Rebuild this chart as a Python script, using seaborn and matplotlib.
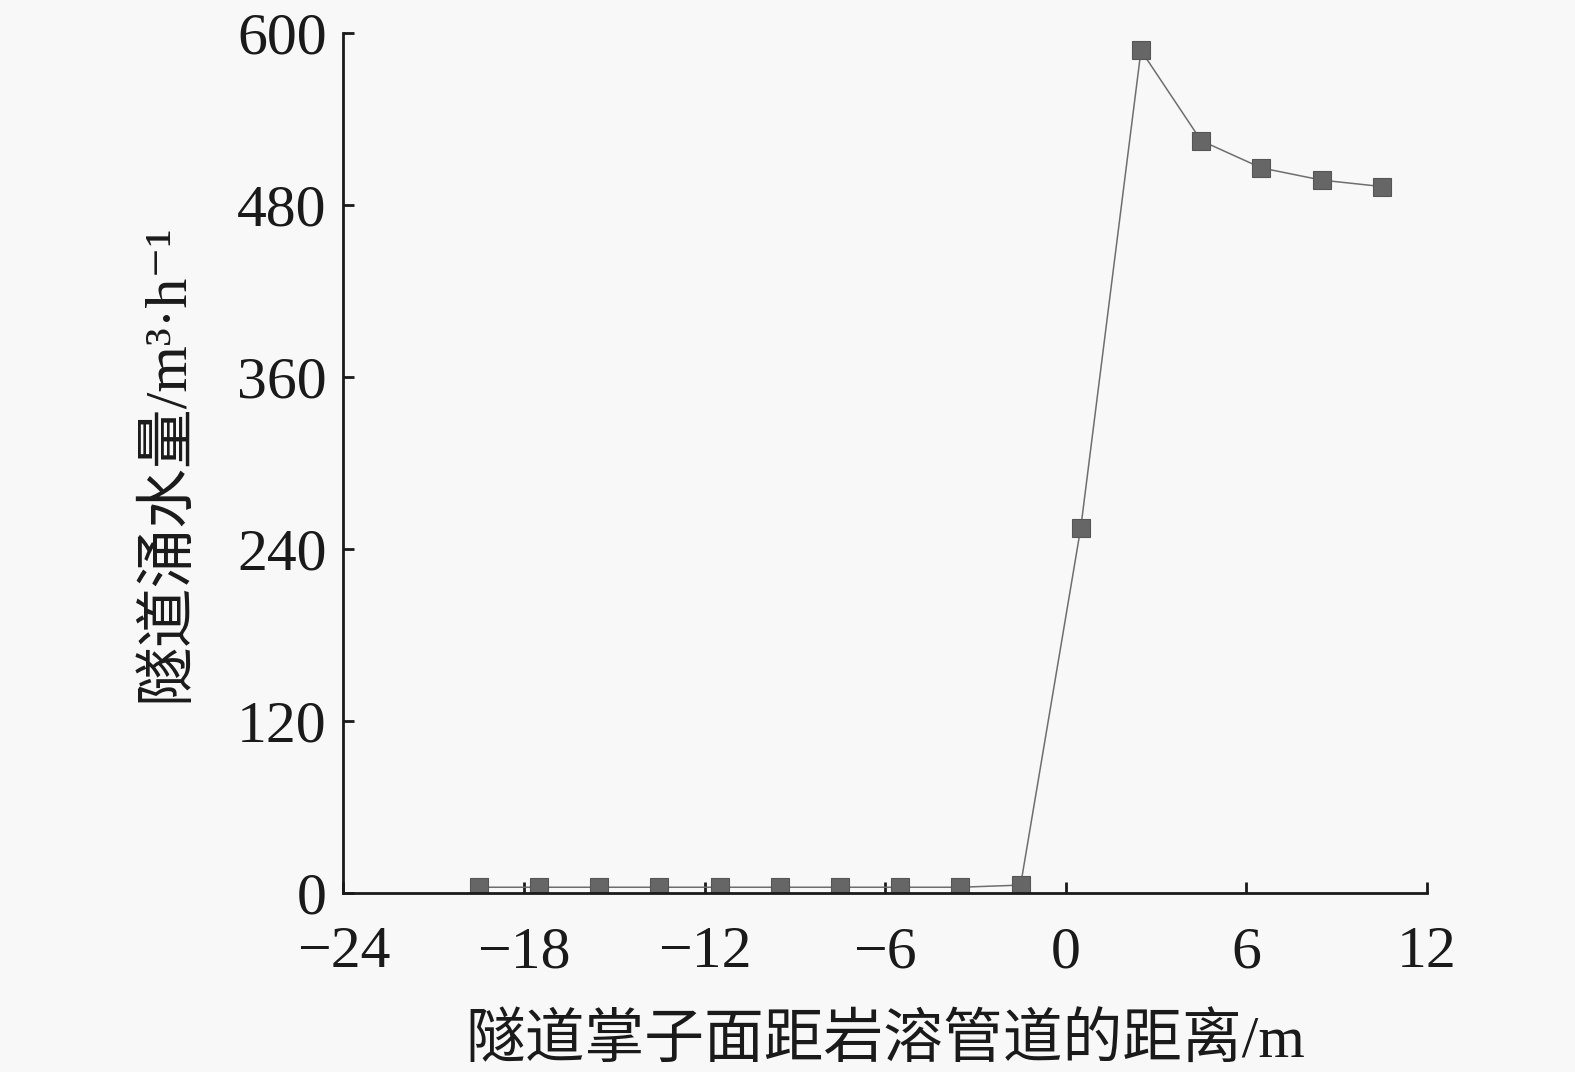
import pandas as pd
import matplotlib
matplotlib.use("Agg")
import matplotlib.pyplot as plt
import seaborn as sns

# distance from tunnel face to karst conduit (m) and inflow (m3/h)
distance = [-19.5, -17.5, -15.5, -13.5, -11.5, -9.5, -7.5, -5.5,
            -3.5, -1.5, 0.5, 2.5, 4.5, 6.5, 8.5, 10.5]
inflow = [4, 4, 4, 4, 4, 4, 4, 4, 4, 5.5, 255, 588, 525, 506, 497.5, 493]

x_ticks = [-24, -18, -12, -6, 0, 6, 12]
y_ticks = [0, 120, 240, 360, 480, 600]

x_label = "隧道掌子面距岩溶管道的距离/m"
y_label = "隧道涌水量/m³·h⁻¹"


def main():
    sns.set_style("ticks")
    fam = ["Liberation Serif", "Noto Sans CJK SC", "DejaVu Sans"]
    plt.rcParams["font.family"] = fam
    plt.rcParams["text.color"] = "#1a1a1a"
    plt.rcParams["axes.labelcolor"] = "#1a1a1a"

    df = pd.DataFrame({"distance": distance, "inflow": inflow})

    fig = plt.figure(figsize=(15.75, 10.72), dpi=100, facecolor="#f8f8f8")
    ax = fig.add_axes([0.218, 0.167, 0.688, 0.802])
    ax.set_facecolor("#f8f8f8")

    sns.lineplot(data=df, x="distance", y="inflow", ax=ax, color="#6e6e6e",
                 linewidth=1.1, marker="s", markersize=13,
                 markerfacecolor="#666666", markeredgecolor="#555555",
                 markeredgewidth=0.8)

    ax.set_xlim(-24, 12)
    ax.set_ylim(0, 600)
    ax.set_xticks(x_ticks)
    ax.set_yticks(y_ticks)
    ax.set_xticklabels([str(t).replace("-", "\u2212") for t in x_ticks])
    ax.tick_params(direction="in", length=8, width=2, labelsize=43,
                   colors="#1a1a1a")
    ax.tick_params(axis="x", pad=24)
    ax.tick_params(axis="y", pad=12)
    for s in ["left", "bottom"]:
        ax.spines[s].set_linewidth(2)
        ax.spines[s].set_color("#1a1a1a")
    sns.despine(ax=ax)

    ax.set_xlabel(x_label, fontsize=43, labelpad=24)
    ax.set_ylabel(y_label, fontsize=43, labelpad=30)

    fig.savefig("out.png", dpi=100, facecolor=fig.get_facecolor())


if __name__ == "__main__":
    main()
